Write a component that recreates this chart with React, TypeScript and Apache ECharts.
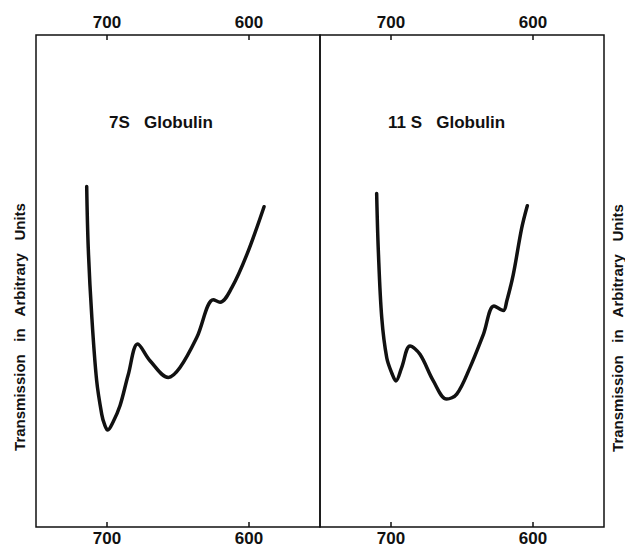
import React, { useEffect, useRef } from "react";
import * as echarts from "echarts";

// Wavelength (nm) and transmission (arbitrary units) for each globulin trace
const wavelengths7S = [714.3, 713.2, 710.8, 707.3, 703.7, 701.8, 699.5, 695.8, 690.8, 685, 678.4, 669.7, 656.8, 648.6, 636.8, 625.1, 620.4, 612.2, 601.6, 589.4];
const transmission7S = [69.2, 56.7, 43.2, 29.8, 22.9, 20.9, 19.7, 21.3, 24.7, 31.0, 37.2, 33.8, 30.4, 32.4, 38.5, 46.2, 45.7, 48.6, 55.3, 65.1];

const wavelengths11S = [710.1, 708.9, 706.5, 703, 699.3, 696.5, 692.5, 686.6, 679.6, 670.2, 660.8, 653.7, 644.4, 635, 627.5, 620.9, 618.5, 613.9, 608, 604];
const transmission11S = [67.8, 56.0, 42.5, 34.4, 31.2, 29.7, 32.4, 36.8, 35.1, 29.7, 26.0, 27.0, 32.4, 39.1, 44.9, 44.0, 45.9, 51.3, 60.7, 65.3];

const tickValues = [600, 700];
const panelTitles = ["7S   Globulin", "11 S   Globulin"];
const yAxisTitle = "Transmission   in   Arbitrary   Units";

const INK = "#111";
const FONT = "'Liberation Sans', Arial, Helvetica, sans-serif";

function pairs(xs: number[], ys: number[]) {
  return xs.map((x, i) => [x, ys[i]]);
}

function wavelengthAxis(gridIndex: number, position: "top" | "bottom") {
  return {
    type: "value",
    gridIndex,
    position,
    min: 550,
    max: 750,
    inverse: true,
    splitLine: { show: false },
    axisLine: { show: false },
    axisTick: {
      show: true,
      inside: true,
      length: 5,
      customValues: tickValues,
      lineStyle: { color: INK, width: 1.5 },
    },
    axisLabel: {
      show: true,
      customValues: tickValues,
      margin: position === "top" ? 4 : 3,
      color: INK,
      fontFamily: FONT,
      fontWeight: "bold",
      fontSize: 17,
    },
  };
}

function transmissionAxis(gridIndex: number) {
  return {
    type: "value",
    gridIndex,
    min: 0,
    max: 100,
    show: false,
    splitLine: { show: false },
  };
}

export default function App() {
  const ref = useRef<HTMLDivElement>(null);

  useEffect(() => {
    if (!ref.current) return;
    const chart = echarts.init(ref.current, null, { renderer: "svg" });

    const gridBase = {
      top: 35,
      height: 494,
      width: 284,
      show: true,
      borderColor: INK,
      borderWidth: 1.5,
      backgroundColor: "transparent",
    };

    const lineSeries = (xAxisIndex: number, yAxisIndex: number, data: number[][]) => ({
      type: "line",
      xAxisIndex,
      yAxisIndex,
      data,
      smooth: 0.35,
      symbol: "none",
      lineStyle: { color: INK, width: 3.5, cap: "round", join: "round" },
      silent: true,
    });

    const titleStyle = { color: INK, fontFamily: FONT, fontWeight: "bold", fontSize: 17 };

    chart.setOption({
      animation: false,
      backgroundColor: "#fff",
      grid: [
        { ...gridBase, left: 36 },
        { ...gridBase, left: 320 },
      ],
      xAxis: [
        wavelengthAxis(0, "bottom"),
        wavelengthAxis(0, "top"),
        wavelengthAxis(1, "bottom"),
        wavelengthAxis(1, "top"),
      ],
      yAxis: [transmissionAxis(0), transmissionAxis(1)],
      title: [
        { text: panelTitles[0], left: 104, top: 109, textStyle: titleStyle },
        { text: panelTitles[1], left: 383, top: 109, textStyle: titleStyle },
      ],
      graphic: [
        {
          type: "text",
          x: 19,
          y: 327,
          rotation: Math.PI / 2,
          style: {
            text: yAxisTitle,
            fill: INK,
            font: `bold 15px ${FONT}`,
            align: "center",
            verticalAlign: "middle",
          },
        },
        {
          type: "text",
          x: 617,
          y: 328,
          rotation: Math.PI / 2,
          style: {
            text: yAxisTitle,
            fill: INK,
            font: `bold 15px ${FONT}`,
            align: "center",
            verticalAlign: "middle",
          },
        },
      ],
      series: [
        lineSeries(0, 0, pairs(wavelengths7S, transmission7S)),
        lineSeries(2, 1, pairs(wavelengths11S, transmission11S)),
      ],
    });

    return () => chart.dispose();
  }, []);

  return (
    <div
      ref={ref}
      style={{ position: "absolute", left: 0, top: 0, width: 625, height: 547 }}
    />
  );
}
